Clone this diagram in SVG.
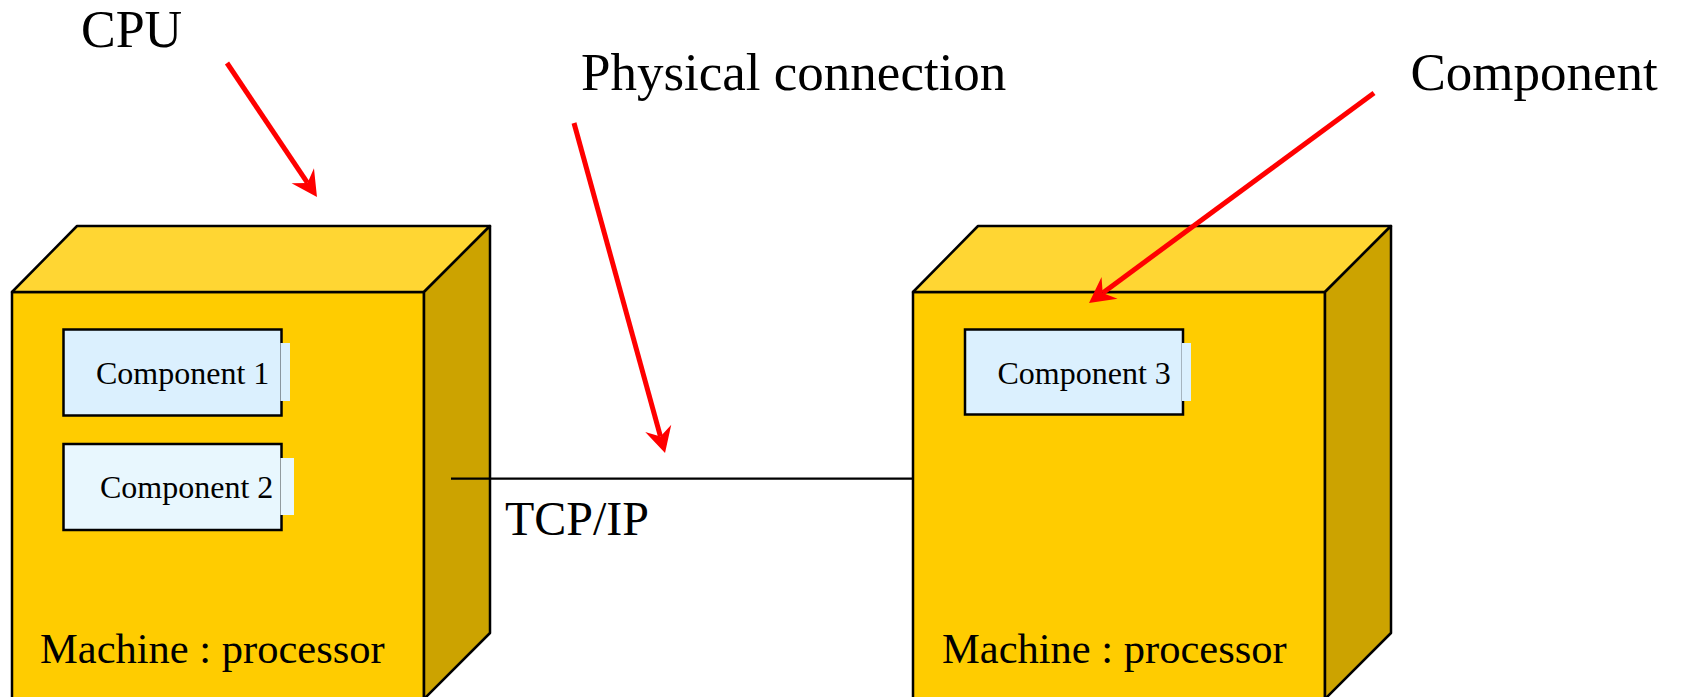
<svg xmlns="http://www.w3.org/2000/svg" width="1683" height="697" viewBox="0 0 1683 697">
  <style>
    .front { fill: #FFCC00; stroke: #000; stroke-width: 2.5; stroke-linejoin: round; }
    .top { fill: #FFD633; stroke: #000; stroke-width: 2.5; stroke-linejoin: round; }
    .side { fill: #CCA300; stroke: #000; stroke-width: 2.5; stroke-linejoin: round; }
    .comp { stroke: #000; stroke-width: 2.5; }
    .c1 { fill: #DBF0FE; }
    .c2 { fill: #E8F7FE; }
    .t { font-family: "Liberation Serif", "Times New Roman", serif; fill: #000; }
    .lbl { font-size: 53px; }
    .ctext { font-size: 32px; }
    .mtext { font-size: 42.5px; }
    .arrow { stroke: #FF0000; stroke-width: 5; fill: none; marker-end: url(#barb); }
  </style>
  <defs>
    <marker id="barb" markerUnits="userSpaceOnUse" orient="auto" viewBox="-27 -15 29 30" markerWidth="29" markerHeight="30" refX="-17" refY="0">
      <path d="M0,0 L-25.5,-13.5 L-17,0 L-25.5,13.5 Z" fill="#FF0000"/>
    </marker>
  </defs>
  <rect width="1683" height="697" fill="#FFFFFF"/>

  <g id="machine1">
    <rect class="front" x="12" y="292" width="412" height="420"/>
    <polygon class="top" points="12,292 77,226 490,226 424,292"/>
    <polygon class="side" points="424,292 490,226 490,633 424,699"/>
    <text class="t mtext" x="40" y="663">Machine : processor</text>
  </g>

  <g id="component1">
    <rect class="comp c1" x="63.5" y="329.5" width="218" height="86"/>
    <rect class="c1" x="280.5" y="343" width="9.5" height="58"/>
    <text class="t ctext" x="96" y="384">Component 1</text>
  </g>

  <g id="component2">
    <rect class="comp c2" x="63.5" y="444" width="218" height="86"/>
    <rect class="c2" x="280.5" y="458" width="13.5" height="57"/>
    <text class="t ctext" x="100" y="498">Component 2</text>
  </g>

  <g id="machine2">
    <rect class="front" x="913" y="292" width="412" height="420"/>
    <polygon class="top" points="913,292 978,226 1391,226 1325,292"/>
    <polygon class="side" points="1325,292 1391,226 1391,633 1325,699"/>
    <text class="t mtext" x="942" y="663">Machine : processor</text>
  </g>

  <g id="component3">
    <rect class="comp c1" x="965" y="329.5" width="218" height="85"/>
    <rect class="c1" x="1182" y="343" width="9" height="58"/>
    <text class="t ctext" x="997.5" y="384">Component 3</text>
  </g>

  <g id="connectors">
    <line x1="451" y1="478.7" x2="913" y2="478.7" stroke="#000" stroke-width="2.2"/>
    <line class="arrow" x1="227" y1="63" x2="307.5" y2="182.9"/>
    <line class="arrow" x1="574" y1="123" x2="660.5" y2="436.6"/>
    <line class="arrow" x1="1374" y1="93" x2="1102.7" y2="292.9"/>
  </g>

  <g id="labels">
    <text class="t" x="81" y="47" font-size="52">CPU</text>
    <text class="t lbl" x="581" y="89.5">Physical connection</text>
    <text class="t lbl" x="1410.5" y="89.5">Component</text>
    <text class="t" x="505" y="535" font-size="48">TCP/IP</text>
  </g>
</svg>
